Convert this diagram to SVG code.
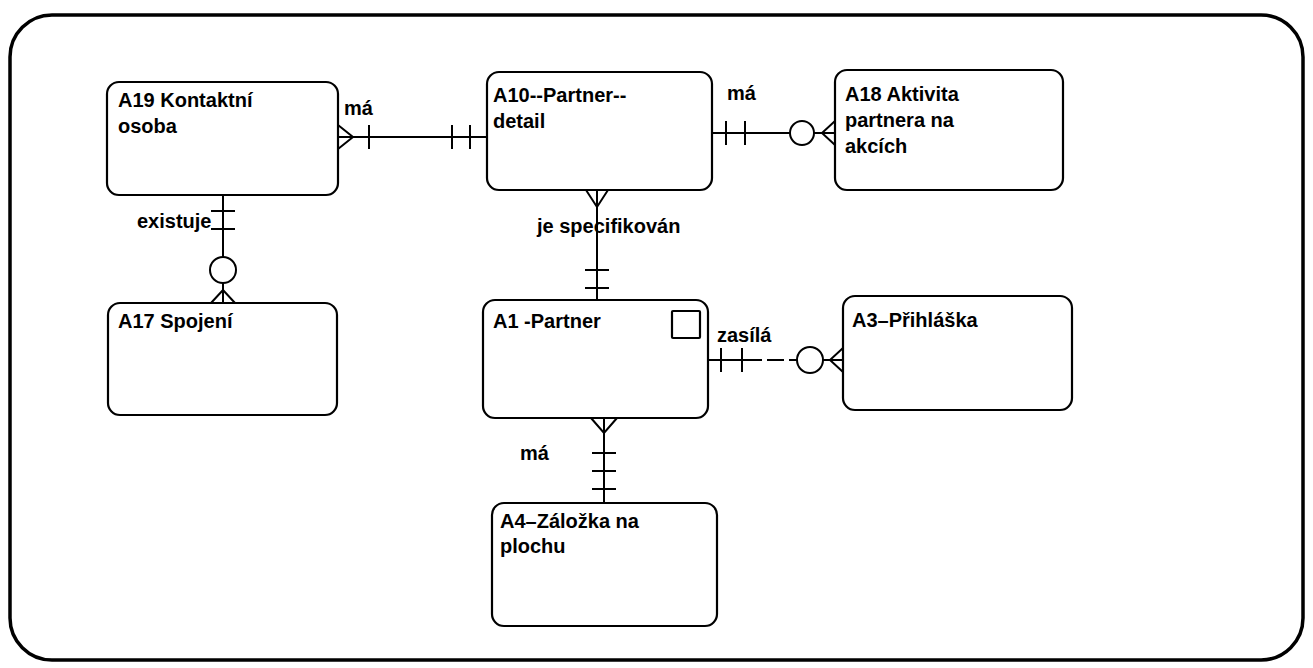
<svg xmlns="http://www.w3.org/2000/svg" width="1313" height="668" viewBox="0 0 1313 668">
<style>
.frame{fill:#fff;stroke:#000;stroke-width:3.5}
.ent{fill:#fff;stroke:#000;stroke-width:2.2}
.ln{fill:none;stroke:#000;stroke-width:2}
.t{font-family:"Liberation Sans",Arial,sans-serif;font-weight:bold;font-size:20px;fill:#000}
</style>
<rect x="0" y="0" width="1313" height="668" fill="#fff"/>
<rect class="frame" x="10" y="15" width="1293" height="645" rx="42" ry="42"/>
<g id="connectors">
  <g id="c-a19-a10">
    <line class="ln" x1="338" y1="137" x2="487" y2="137"/>
    <polyline class="ln" points="338,125 353,137 338,149"/>
    <line class="ln" x1="369" y1="125" x2="369" y2="149"/>
    <line class="ln" x1="452" y1="125" x2="452" y2="149"/>
    <line class="ln" x1="470" y1="125" x2="470" y2="149"/>
    <text class="t" x="344" y="115">má</text>
  </g>
  <g id="c-a10-a18">
    <line class="ln" x1="712" y1="133" x2="790" y2="133"/>
    <line class="ln" x1="814" y1="133" x2="835" y2="133"/>
    <line class="ln" x1="726" y1="121" x2="726" y2="145"/>
    <line class="ln" x1="745" y1="121" x2="745" y2="145"/>
    <circle class="ln" cx="802" cy="133" r="12"/>
    <polyline class="ln" points="835,121 822,133 835,145"/>
    <text class="t" x="727" y="100">má</text>
  </g>
  <g id="c-a19-a17">
    <line class="ln" x1="223" y1="195" x2="223" y2="257"/>
    <line class="ln" x1="223" y1="283" x2="223" y2="303"/>
    <line class="ln" x1="211" y1="211" x2="235" y2="211"/>
    <line class="ln" x1="211" y1="229" x2="235" y2="229"/>
    <circle class="ln" cx="223" cy="270" r="13"/>
    <polyline class="ln" points="211,303 223,290 235,303"/>
    <text class="t" x="137" y="228">existuje</text>
  </g>
  <g id="c-a10-a1">
    <line class="ln" x1="597" y1="190" x2="597" y2="300"/>
    <polyline class="ln" points="586,190 597,207 608,190"/>
    <line class="ln" x1="585" y1="270" x2="609" y2="270"/>
    <line class="ln" x1="585" y1="288" x2="609" y2="288"/>
    <text class="t" x="537" y="233">je specifikován</text>
  </g>
  <g id="c-a1-a3">
    <line class="ln" x1="708" y1="360" x2="745" y2="360"/>
    <line class="ln" x1="745" y1="360" x2="797" y2="360" stroke-dasharray="17 5"/>
    <line class="ln" x1="823" y1="360" x2="843" y2="360"/>
    <line class="ln" x1="721" y1="348" x2="721" y2="372"/>
    <line class="ln" x1="742" y1="348" x2="742" y2="372"/>
    <circle class="ln" cx="810" cy="360" r="13"/>
    <polyline class="ln" points="843,348 830,360 843,372"/>
    <text class="t" x="717" y="342">zasílá</text>
  </g>
  <g id="c-a1-a4">
    <line class="ln" x1="604" y1="418" x2="604" y2="503"/>
    <polyline class="ln" points="591,418 604,433 617,418"/>
    <line class="ln" x1="592" y1="453" x2="616" y2="453"/>
    <line class="ln" x1="592" y1="471" x2="616" y2="471"/>
    <line class="ln" x1="592" y1="489" x2="616" y2="489"/>
    <text class="t" x="520" y="460">má</text>
  </g>
</g>
<g id="A19">
  <rect class="ent" x="107" y="82" width="231" height="113" rx="12"/>
  <text class="t" x="118" y="107">A19 Kontaktní</text>
  <text class="t" x="118" y="133">osoba</text>
</g>
<g id="A10">
  <rect class="ent" x="487" y="72" width="225" height="118" rx="12"/>
  <text class="t" x="493" y="102">A10--Partner--</text>
  <text class="t" x="493" y="128">detail</text>
</g>
<g id="A18">
  <rect class="ent" x="835" y="70" width="228" height="120" rx="12"/>
  <text class="t" x="845" y="101">A18 Aktivita</text>
  <text class="t" x="845" y="127">partnera na</text>
  <text class="t" x="845" y="153">akcích</text>
</g>
<g id="A17">
  <rect class="ent" x="108" y="303" width="229" height="112" rx="12"/>
  <text class="t" x="118" y="328">A17 Spojení</text>
</g>
<g id="A1">
  <rect class="ent" x="483" y="300" width="225" height="118" rx="12"/>
  <text class="t" x="493" y="328">A1 -Partner</text>
  <rect class="ent" x="672" y="311" width="28" height="27" rx="1"/>
</g>
<g id="A3">
  <rect class="ent" x="843" y="296" width="229" height="114" rx="12"/>
  <text class="t" x="852" y="327">A3–Přihláška</text>
</g>
<g id="A4">
  <rect class="ent" x="492" y="503" width="225" height="123" rx="12"/>
  <text class="t" x="500" y="528">A4–Záložka na</text>
  <text class="t" x="500" y="553">plochu</text>
</g>
</svg>
